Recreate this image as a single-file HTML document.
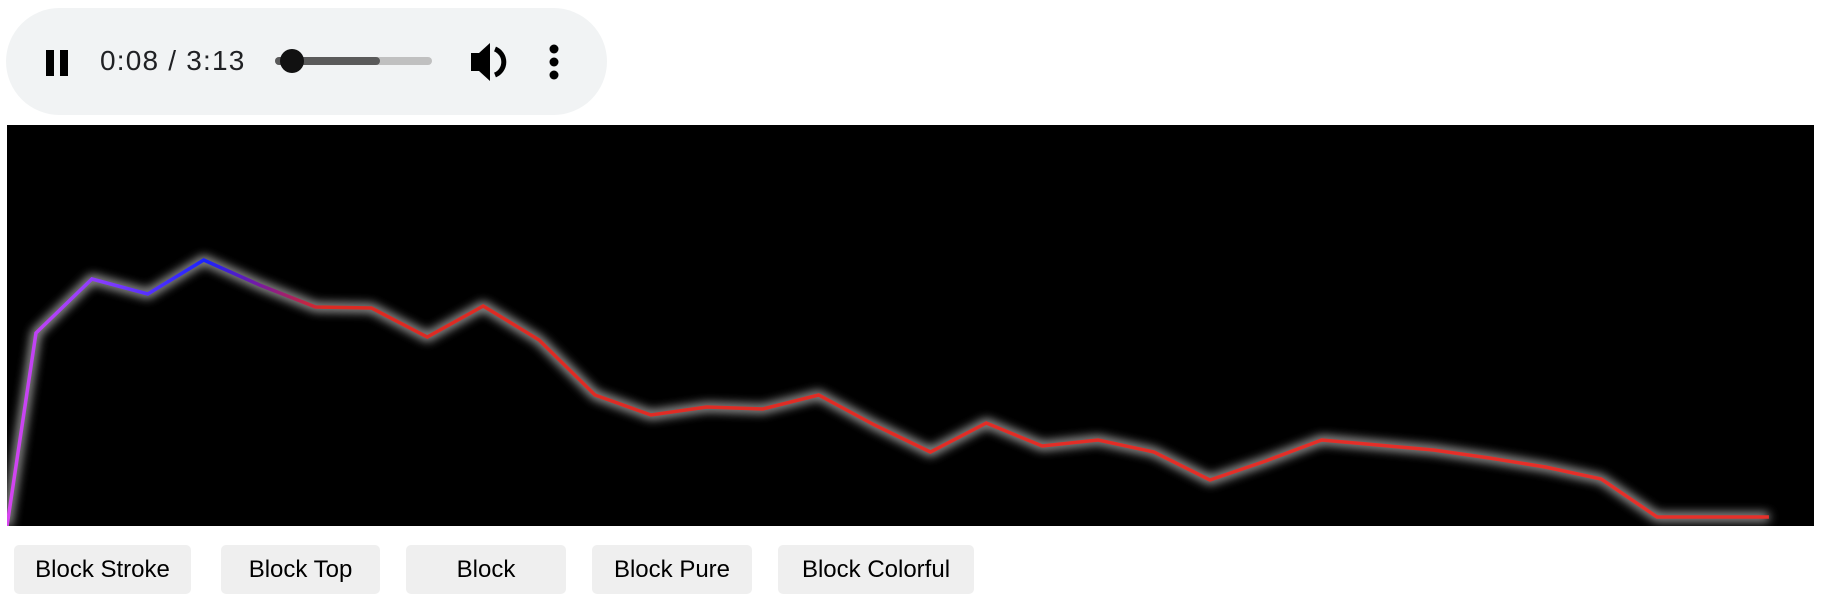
<!DOCTYPE html>
<html><head><meta charset="utf-8"><style>
body{margin:0;width:1822px;height:612px;background:#fff;font-family:"Liberation Sans",sans-serif;position:relative;overflow:hidden}
.player{position:absolute;left:6px;top:8px;width:601px;height:107px;border-radius:54px;background:#f1f3f4}
.time{position:absolute;left:94px;top:37px;font-size:28px;letter-spacing:1.2px;color:#202124}
.canvas{position:absolute;left:7px;top:125px;width:1807px;height:401px;background:#000}
.btn{position:absolute;top:545px;height:49px;background:#efefef;border-radius:5px;font-size:24px;color:#000;display:flex;align-items:center;justify-content:center}
</style></head><body>
<div class="player">
  <svg style="position:absolute;left:0;top:0" width="601" height="107">
    <g><rect x="40" y="42" width="8" height="26" fill="#000"/><rect x="54" y="42" width="8" height="26" fill="#000"/></g>
    <g><rect x="269" y="49" width="157" height="8" rx="4" fill="#c0c0c0"/><rect x="269" y="49" width="105" height="8" rx="4" fill="#5a5a5a"/><circle cx="286" cy="53" r="12" fill="#111"/></g>
    <g><path d="M465 45h8l11-10v38l-11-10h-8z" fill="#000"/><path d="M489 41a14 14 0 0 1 0 26" stroke="#000" stroke-width="5" fill="none"/></g>
    <g><circle cx="548" cy="41" r="4.5"/><circle cx="548" cy="54" r="4.5"/><circle cx="548" cy="67" r="4.5"/></g>
  </svg>
  <div class="time">0:08 / 3:13</div>
</div>
<div class="canvas">
<svg id="viz" width="1807" height="401">
  <defs>
    <linearGradient id="g" gradientUnits="userSpaceOnUse" x1="0" y1="0" x2="1807" y2="0">
      <stop offset="0" stop-color="#d845f0"/>
      <stop offset="0.05" stop-color="#8a3cff"/>
      <stop offset="0.11" stop-color="#1a22ff"/>
      <stop offset="0.14" stop-color="#7a1aa0"/>
      <stop offset="0.175" stop-color="#dd2a22"/>
      <stop offset="1" stop-color="#e8302a"/>
    </linearGradient>
    <filter id="blur" x="-5%" y="-20%" width="110%" height="140%"><feGaussianBlur stdDeviation="5"/></filter>
  </defs>
</svg>
</div>
<div class="btn" style="left:14px;width:177px">Block Stroke</div>
<div class="btn" style="left:221px;width:159px">Block Top</div>
<div class="btn" style="left:406px;width:160px">Block</div>
<div class="btn" style="left:592px;width:160px">Block Pure</div>
<div class="btn" style="left:778px;width:196px">Block Colorful</div>
<script>
const bins=[0,1,2,3,4,5,6,7,8,9,10,11,12,13,14,15,16,17,18,19,20,21,22,23,24,25,26,27,28,29,30,31,32];
const levels=[0,193,247,232,266,241,219,218,189,220,186,131,111,119,117,131,101,74,103,80,86,74,46,65,86,81,76,68,59,47,9,9,9];
const H=401;
function xs(i){return i===0?0:29+(i-1)*55.9;}
function ys(v){return H-v;}
const svg=document.getElementById('viz');
const pts=bins.map((b,i)=>xs(b).toFixed(1)+','+ys(levels[i]).toFixed(1)).join(' ');
const ns='http://www.w3.org/2000/svg';
const glow=document.createElementNS(ns,'polyline');


glow.setAttribute('points',pts);glow.setAttribute('fill','none');glow.setAttribute('stroke','#ccc');glow.setAttribute('stroke-width','8');glow.setAttribute('filter','url(#blur)');glow.setAttribute('opacity','0.9');
svg.appendChild(glow);
const line=document.createElementNS(ns,'polyline');


line.setAttribute('points',pts);line.setAttribute('fill','none');line.setAttribute('stroke','url(#g)');line.setAttribute('stroke-width','3.5');line.setAttribute('stroke-linejoin','miter');
svg.appendChild(line);
</script>
</body></html>
